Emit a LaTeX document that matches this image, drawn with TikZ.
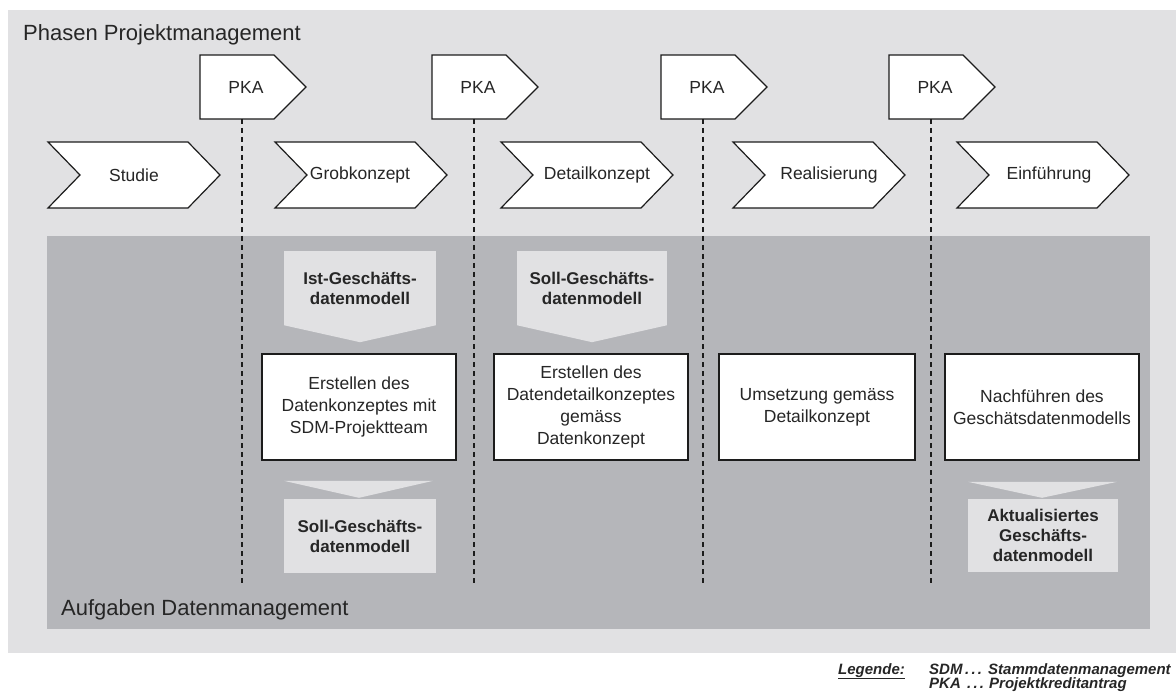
\documentclass[tikz,border=0pt]{standalone}
\usepackage{fontspec}
\setmainfont{Liberation Sans}
\usetikzlibrary{calc}

\definecolor{bglight}{RGB}{225,225,227}
\definecolor{bgdark}{RGB}{181,182,186}
\definecolor{ink}{RGB}{38,38,38}
\definecolor{edge}{RGB}{28,28,28}

\newcommand{\legdots}{.\kern2.2pt.\kern2.2pt.}

\tikzset{
  outline/.style={draw=edge, line width=1.2pt, fill=white, line join=miter},
  title/.style={anchor=base west, inner sep=0pt, text=ink, font=\fontsize{22}{26}\selectfont},
  phaselabel/.style={inner sep=0pt, text=ink, font=\fontsize{17.5}{22}\selectfont},
  taskbox/.style={draw=edge, line width=1.2pt, fill=white, inner sep=2pt,
    minimum height=106pt, align=center, text=ink, font=\fontsize{17.5}{22}\selectfont},
  deliv/.style={fill=bglight, inner sep=0pt, minimum width=152pt, minimum height=74pt,
    align=center, text=ink, font=\bfseries\fontsize{17}{20}\selectfont},
  milestone/.style={draw=edge, line width=1.1pt, dash pattern=on 5pt off 4pt},
  legend/.style={anchor=base west, inner sep=0pt, text=ink,
    font=\bfseries\itshape\fontsize{15}{15}\selectfont},
}

\begin{document}
\begin{tikzpicture}[x=1pt, y=-1pt]
\useasboundingbox (0,0) rectangle (1176,695);

% background panels
\fill[bglight] (8,10) rectangle (1176,653);
\fill[bgdark] (47,236) rectangle (1150,629);

\node[title] (phasen) at (23,41) {Phasen Projektmanagement};
\node[title] (aufgaben) at (61,615) {Aufgaben Datenmanagement};

% milestone (PKA) markers with their dashed guide lines
\foreach \x [count=\i] in {200,432,661,889} {
  \draw[outline] (\x,55) -- (\x+74,55) -- (\x+106,87) -- (\x+74,119) -- (\x,119) -- cycle;
  \node[phaselabel] (pka\i) at (\x+46,87) {PKA};
  \coordinate (pkatop\i) at (\x+42,119);
  \coordinate (pkabot\i) at (\x+42,583);
  \draw[milestone] (pkatop\i) -- (pkabot\i);
}

% project phases
\foreach \x/\c/\name/\txt in {48/134/studie/Studie, 275/360/grob/Grobkonzept,
    501/597/detail/Detailkonzept, 733/829/real/Realisierung, 957/1049/einf/Einführung} {
  \draw[outline] (\x,142) -- (\x+140,142) -- (\x+172,175) -- (\x+140,208)
    -- (\x,208) -- (\x+32,175) -- cycle;
  \node[phaselabel] (\name) at (\c,175) {\txt};
}

% data management tasks
\node[taskbox, minimum width=194pt] (task1) at (359,407)
  {Erstellen des\\Datenkonzeptes mit\\SDM-Projektteam};
\node[taskbox, minimum width=194pt] (task2) at (591,407)
  {Erstellen des\\Datendetailkonzeptes\\gemäss\\Datenkonzept};
\node[taskbox, minimum width=196pt] (task3) at (817,407)
  {Umsetzung gemäss\\Detailkonzept};
\node[taskbox, minimum width=194pt] (task4) at (1042,407)
  {Nachführen des\\Geschätsdatenmodells};

% inputs (arrow below the box)
\node[deliv] (ist) at (360,288) {Ist-Geschäfts-\\datenmodell};
\fill[bglight] (ist.south west) -- (ist.south east) -- ($(ist.south)+(0,17)$) -- cycle;
\node[deliv, minimum width=150pt] (sollin) at (592,288) {Soll-Geschäfts-\\datenmodell};
\fill[bglight] (sollin.south west) -- (sollin.south east) -- ($(sollin.south)+(0,17)$) -- cycle;

% outputs (arrow above the box)
\node[deliv] (sollout) at (360,536) {Soll-Geschäfts-\\datenmodell};
\fill[bglight] ($(sollout.north west)+(0,-18)$) -- ($(sollout.north east)+(-3,-18)$)
  -- ($(sollout.north)+(-1,-1)$) -- cycle;
\node[deliv, minimum width=150pt, minimum height=73pt] (aktuell) at (1043,535.5)
  {Aktualisiertes\\Geschäfts-\\datenmodell};
\fill[bglight] ($(aktuell.north west)+(0,-17)$) -- ($(aktuell.north east)+(-1,-17)$)
  -- ($(aktuell.north)+(-1,-1)$) -- cycle;

% legend
\node[legend] (leg) at (838,674) {\underline{Legende:}};
\node[legend] (sdm) at (929,674) {SDM};
\node[legend] (dots1) at (965,674) {\legdots};
\node[legend] (sdmtxt) at (988,674) {Stammdatenmanagement};
\node[legend] (pka) at (929,688) {PKA};
\node[legend] (dots2) at (967,688) {\legdots};
\node[legend] (pkatxt) at (989,688) {Projektkreditantrag};
\end{tikzpicture}
\end{document}
